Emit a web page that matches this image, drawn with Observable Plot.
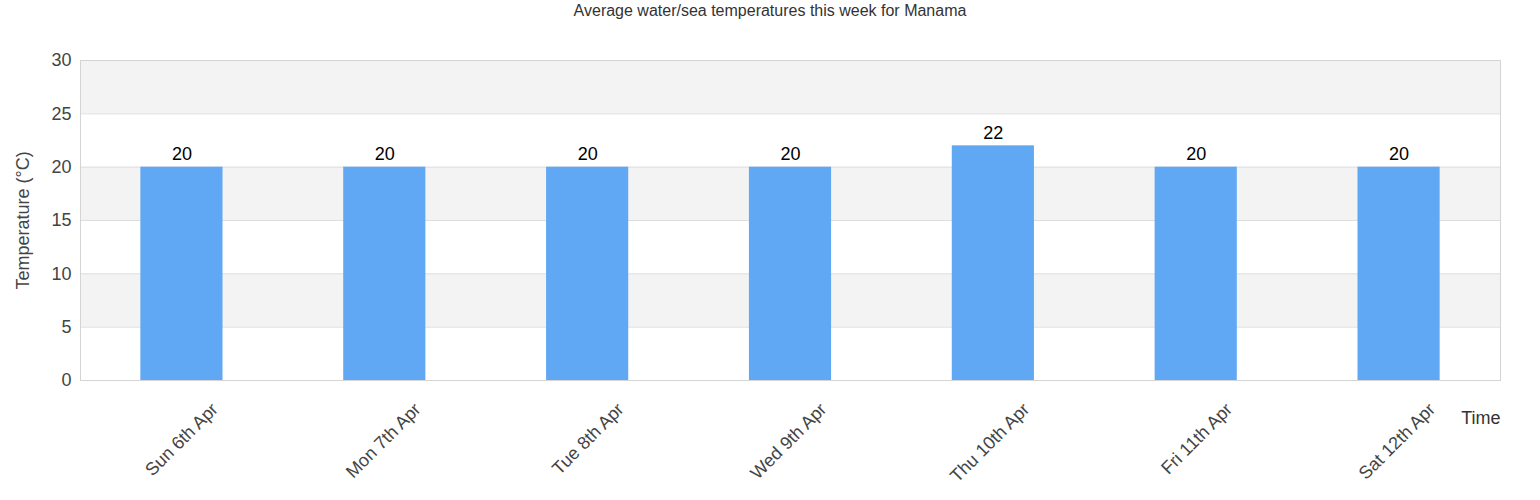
<!DOCTYPE html>
<html>
<head>
<meta charset="utf-8">
<script src="https://cdn.jsdelivr.net/npm/d3@7"></script>
<script src="https://cdn.jsdelivr.net/npm/@observablehq/plot@0.6"></script>
<style>
  html, body { margin: 0; padding: 0; background: #fff; }
  body { width: 1540px; height: 500px; overflow: hidden; font-family: "Liberation Sans", Arial, sans-serif; }
  #title { height: 22px; line-height: 22px; text-align: center; font-size: 16px; color: #333; }
</style>
</head>
<body>
<div id="title">Average water/sea temperatures this week for Manama</div>
<div id="chart"></div>
<script>
const days = ["Sun 6th Apr", "Mon 7th Apr", "Tue 8th Apr", "Wed 9th Apr", "Thu 10th Apr", "Fri 11th Apr", "Sat 12th Apr"];
const temps = [20, 20, 20, 20, 22, 20, 20];
const yTicks = [0, 5, 10, 15, 20, 25, 30];
const bandStarts = [5, 15, 25];
const bandEnds = [10, 20, 30];

const data = days.map((d, i) => ({day: d, temp: temps[i]}));
const bands = bandStarts.map((s, i) => ({y1: s, y2: bandEnds[i]}));

const chart = Plot.plot({
  width: 1540,
  height: 478,
  marginTop: 38,
  marginBottom: 120,
  marginLeft: 80,
  marginRight: 40,
  style: {fontFamily: "'Liberation Sans', Arial, sans-serif", background: "#fff"},
  x: {domain: days, paddingInner: 0.595, paddingOuter: 0.2975, align: 0.5, round: false},
  y: {domain: [0, 30]},
  marks: [
    Plot.rect(bands, {y1: "y1", y2: "y2", fill: "#f3f3f3"}),
    Plot.gridY(yTicks, {stroke: "#dedede", strokeOpacity: 1, strokeWidth: 1}),
    Plot.barY(data, {x: "day", y: "temp", fill: "#61a8f4"}),
    Plot.text(data, {x: "day", y: "temp", text: d => String(d.temp), lineAnchor: "bottom", dy: -7, fontSize: 18, fill: "#000"}),
    Plot.frame({stroke: "#d4d4d4", strokeWidth: 1}),
    Plot.axisY({ticks: yTicks, tickSize: 0, tickPadding: 9, fontSize: 18, color: "#444",
      label: "Temperature (°C)", labelAnchor: "center", labelOffset: 64, labelArrow: "none"}),
    Plot.axisX({tickSize: 0, tickRotate: -45, fontSize: 18, color: "#444", dx: 33, dy: 14, label: null}),
    Plot.text(["Time"], {frameAnchor: "bottom-right", dy: 38, textAnchor: "end", lineAnchor: "middle", fontSize: 18, fill: "#333"})
  ]
});
document.getElementById("chart").appendChild(chart);
</script>
</body>
</html>
